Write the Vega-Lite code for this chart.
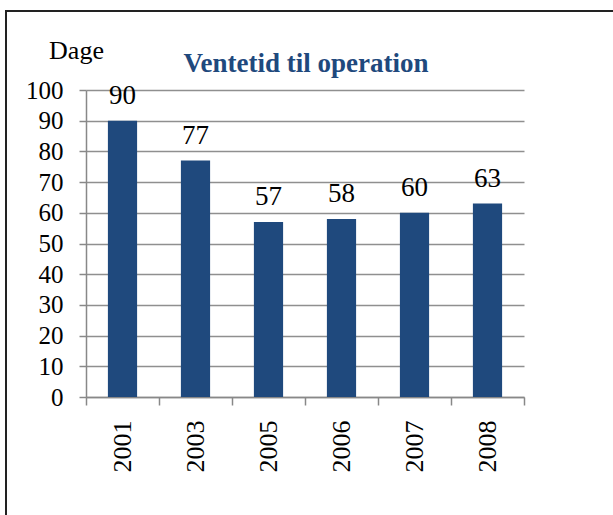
{
  "$schema": "https://vega.github.io/schema/vega-lite/v6.json",
  "autosize": "none",
  "padding": {"left": 6, "top": 11, "right": 0, "bottom": 0},
  "width": 610,
  "height": 510,
  "background": "white",
  "title": {
    "text": "Ventetid til operation",
    "font": "Liberation Serif",
    "fontSize": 27,
    "fontWeight": "bold",
    "color": "#1F497D",
    "anchor": "middle",
    "baseline": "alphabetic",
    "offset": -88,
    "dx": -5
  },
  "config": {
    "view": {"stroke": "#222222", "strokeWidth": 2},
    "font": "Liberation Serif"
  },
  "data": {
    "values": [
      {"year": "2001", "days": 90},
      {"year": "2003", "days": 77},
      {"year": "2005", "days": 57},
      {"year": "2006", "days": 58},
      {"year": "2007", "days": 60},
      {"year": "2008", "days": 63}
    ]
  },
  "encoding": {
    "x": {
      "field": "year",
      "type": "nominal",
      "sort": null,
      "scale": {"range": [80, 518], "paddingInner": 0, "paddingOuter": 0},
      "axis": {
        "title": null,
        "orient": "bottom",
        "offset": -124,
        "labelAngle": -90,
        "labelFont": "Liberation Serif",
        "labelFontSize": 26,
        "labelColor": "#000000",
        "labelPadding": 15,
        "tickBand": "extent",
        "tickSize": 8,
        "tickColor": "#888888",
        "tickWidth": 1.5,
        "domainColor": "#888888",
        "domainWidth": 1.5,
        "grid": false
      }
    },
    "y": {
      "field": "days",
      "type": "quantitative",
      "scale": {"domain": [0, 100], "range": [386, 79], "nice": false},
      "axis": {
        "title": "Dage",
        "titleFont": "Liberation Serif",
        "titleFontSize": 26,
        "titleFontWeight": "normal",
        "titleColor": "#000000",
        "titleAngle": 0,
        "titleAlign": "center",
        "titleBaseline": "alphabetic",
        "titleX": -10,
        "titleY": 47,
        "orient": "left",
        "offset": -80,
        "values": [0, 10, 20, 30, 40, 50, 60, 70, 80, 90, 100],
        "labelFont": "Liberation Serif",
        "labelFontSize": 25,
        "labelColor": "#000000",
        "labelPadding": 16,
        "tickSize": 7,
        "tickColor": "#888888",
        "tickWidth": 1.5,
        "domainColor": "#888888",
        "domainWidth": 1.5,
        "grid": true,
        "gridColor": "#8f8f8f",
        "gridWidth": 1.5
      }
    }
  },
  "layer": [
    {"mark": {"type": "bar", "color": "#1F497D", "width": {"band": 0.4}}},
    {
      "mark": {
        "type": "text",
        "baseline": "alphabetic",
        "dy": -17,
        "font": "Liberation Serif",
        "fontSize": 27,
        "color": "#000000"
      },
      "encoding": {"text": {"field": "days", "type": "quantitative"}}
    }
  ]
}
